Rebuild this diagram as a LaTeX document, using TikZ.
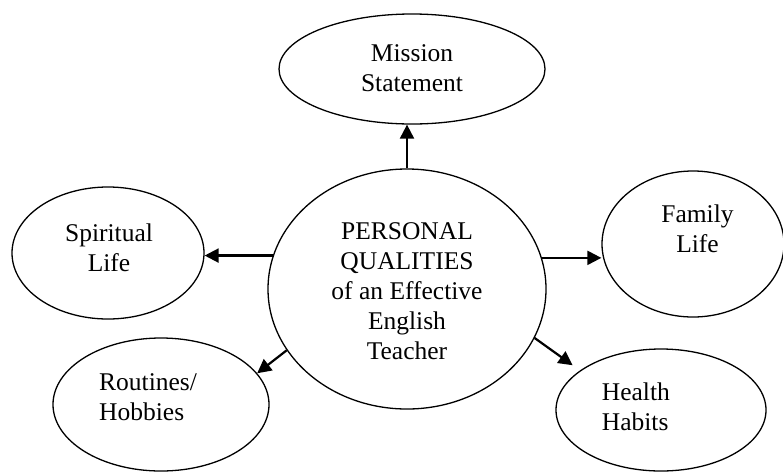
\documentclass[tikz,border=0pt]{standalone}
\usepackage{fontspec}
\setmainfont{Liberation Serif}
\usetikzlibrary{shapes.geometric,arrows.meta}
\begin{document}
\begin{tikzpicture}[x=1pt,y=-1pt,
  bubble/.style={draw,ellipse,line width=1.3pt,inner sep=0pt},
  txt/.style={inner sep=0pt,font=\fontsize{25.5}{30}\selectfont},
  arr/.style={line width=2.2pt,-{Triangle[length=14pt,width=14pt]}}]
\useasboundingbox (0,0) rectangle (783,472);
\node[bubble,minimum width=278pt,minimum height=240pt] (core) at (407,289) {};
\node[bubble,minimum width=266pt,minimum height=110pt] (mission) at (412,69) {};
\node[bubble,minimum width=192pt,minimum height=132pt] (spirit) at (108,253) {};
\node[bubble,minimum width=182pt,minimum height=146pt] (family) at (693,244) {};
\node[bubble,minimum width=216pt,minimum height=133pt] (routine) at (161,404.5) {};
\node[bubble,minimum width=210pt,minimum height=122pt] (health) at (661,410) {};
\node[txt,align=center] (coretxt) at (407,291) {PERSONAL\\QUALITIES\\of an Effective\\English\\Teacher};
\node[txt,align=center] (missiontxt) at (412,68.5) {Mission\\Statement};
\node[txt,align=center] (spirittxt) at (109,248) {Spiritual\\Life};
\node[txt,align=center] (familytxt) at (697.5,228.5) {Family\\Life};
\node[txt,align=left,anchor=west] (routinetxt) at (99,397.5) {Routines/\\Hobbies};
\node[txt,align=left,anchor=west] (healthtxt) at (601.7,407) {Health\\Habits};
\draw[arr] (core.north) -- (core.north |- mission.south);
\draw[arr] (core.166.8) -- (spirit.east |- core.166.8);
\draw[arr] (core.13.2) -- (family.west |- core.13.2);
\draw[arr] (core.207.1) -- (routine.18.3);
\draw[arr,shorten >=9pt] (core.-21.4) -- (health.154.6);
\end{tikzpicture}
\end{document}
